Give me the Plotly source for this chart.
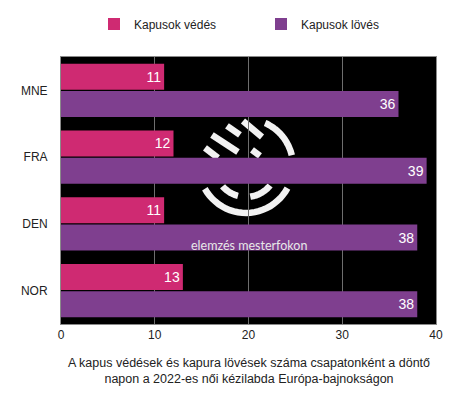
import math
import plotly.graph_objects as go

# data
teams = ["MNE", "FRA", "DEN", "NOR"]
saves = [11, 12, 11, 13]
shots = [36, 39, 38, 38]
x_ticks = [0, 10, 20, 30, 40]

pink = "#CF2A72"
purple = "#7F3F8F"

fig = go.Figure()
fig.add_trace(go.Bar(
    y=teams, x=saves, orientation="h", name="Kapusok védés",
    marker=dict(color=pink, line=dict(width=0)),
    text=saves, textposition="inside", insidetextanchor="end",
    textfont=dict(color="white", size=14),
))
fig.add_trace(go.Bar(
    y=teams, x=shots, orientation="h", name="Kapusok lövés",
    marker=dict(color=purple, line=dict(width=0)),
    text=shots, textposition="inside", insidetextanchor="end",
    textfont=dict(color="white", size=14),
))


# watermark logo (pixel paths around the logo centre, y up)
def arc(r, a0, a1, n=24):
    pts = []
    for i in range(n + 1):
        a = math.radians(a0 + (a1 - a0) * i / n)
        pts.append(f"{r * math.cos(a):.1f},{r * math.sin(a):.1f}")
    return "M " + " L ".join(pts)


logo = [
    "M -41,18 L -28,8",
    "M -34,31 L -8,14",
    "M -19,40 L -6,31",
    "M -3,45 L 16,29",
    "M 6,16 L 14,10",
    arc(47, 66, 13),
    arc(47, -151, -28),
    arc(31, -139, -105),
    arc(31, -82, -39),
]
for p in logo:
    fig.add_shape(
        type="path", path=p, layer="below",
        xref="x", yref="paper", xsizemode="pixel", ysizemode="pixel",
        xanchor=19.73, yanchor=0.592,
        line=dict(color="#F2F2F2", width=6.5),
    )
fig.add_annotation(
    text="elemzés mesterfokon", x=20.0, y=0.258, xref="x", yref="paper",
    showarrow=False, font=dict(color="#E8E8E8", size=12.5, family="Lato"),
)

fig.add_annotation(
    text="A kapus védések és kapura lövések száma csapatonként a döntő<br>napon a 2022-es női kézilabda Európa-bajnokságon",
    x=0.5, y=-0.112, xref="paper", yref="paper", xanchor="center", yanchor="top",
    showarrow=False, align="center",
    font=dict(size=12.5, color="#222222"),
)

# the page has an 8px body margin, so the figure is pulled in by 8px
fig.update_layout(
    width=466, height=409,
    margin=dict(l=53, r=38, t=49, b=93, autoexpand=False),
    paper_bgcolor="white", plot_bgcolor="black",
    font=dict(family="Liberation Sans, Arial, sans-serif", size=12, color="#222222"),
    barmode="group", bargap=0.18, bargroupgap=0.05,
    showlegend=True,
    legend=dict(
        orientation="h", x=0.088, y=1.124, xanchor="left", yanchor="middle",
        entrywidth=122, entrywidthmode="pixels",
        font=dict(size=12, color="#222222"), itemclick=False,
    ),
    xaxis=dict(
        range=[0, 40], tickvals=x_ticks, showgrid=True, gridcolor="#6E6E6E",
        gridwidth=1, zeroline=False, ticks="", tickfont=dict(size=12),
        showline=True, mirror=True, linecolor="#8A8A8A", linewidth=1,
        fixedrange=True,
    ),
    yaxis=dict(
        autorange="reversed", showgrid=False, ticks="", ticklabelstandoff=10,
        showline=True, mirror=True, linecolor="#8A8A8A", linewidth=1,
        tickfont=dict(size=12), fixedrange=True,
    ),
)

fig.write_html("out.html")
